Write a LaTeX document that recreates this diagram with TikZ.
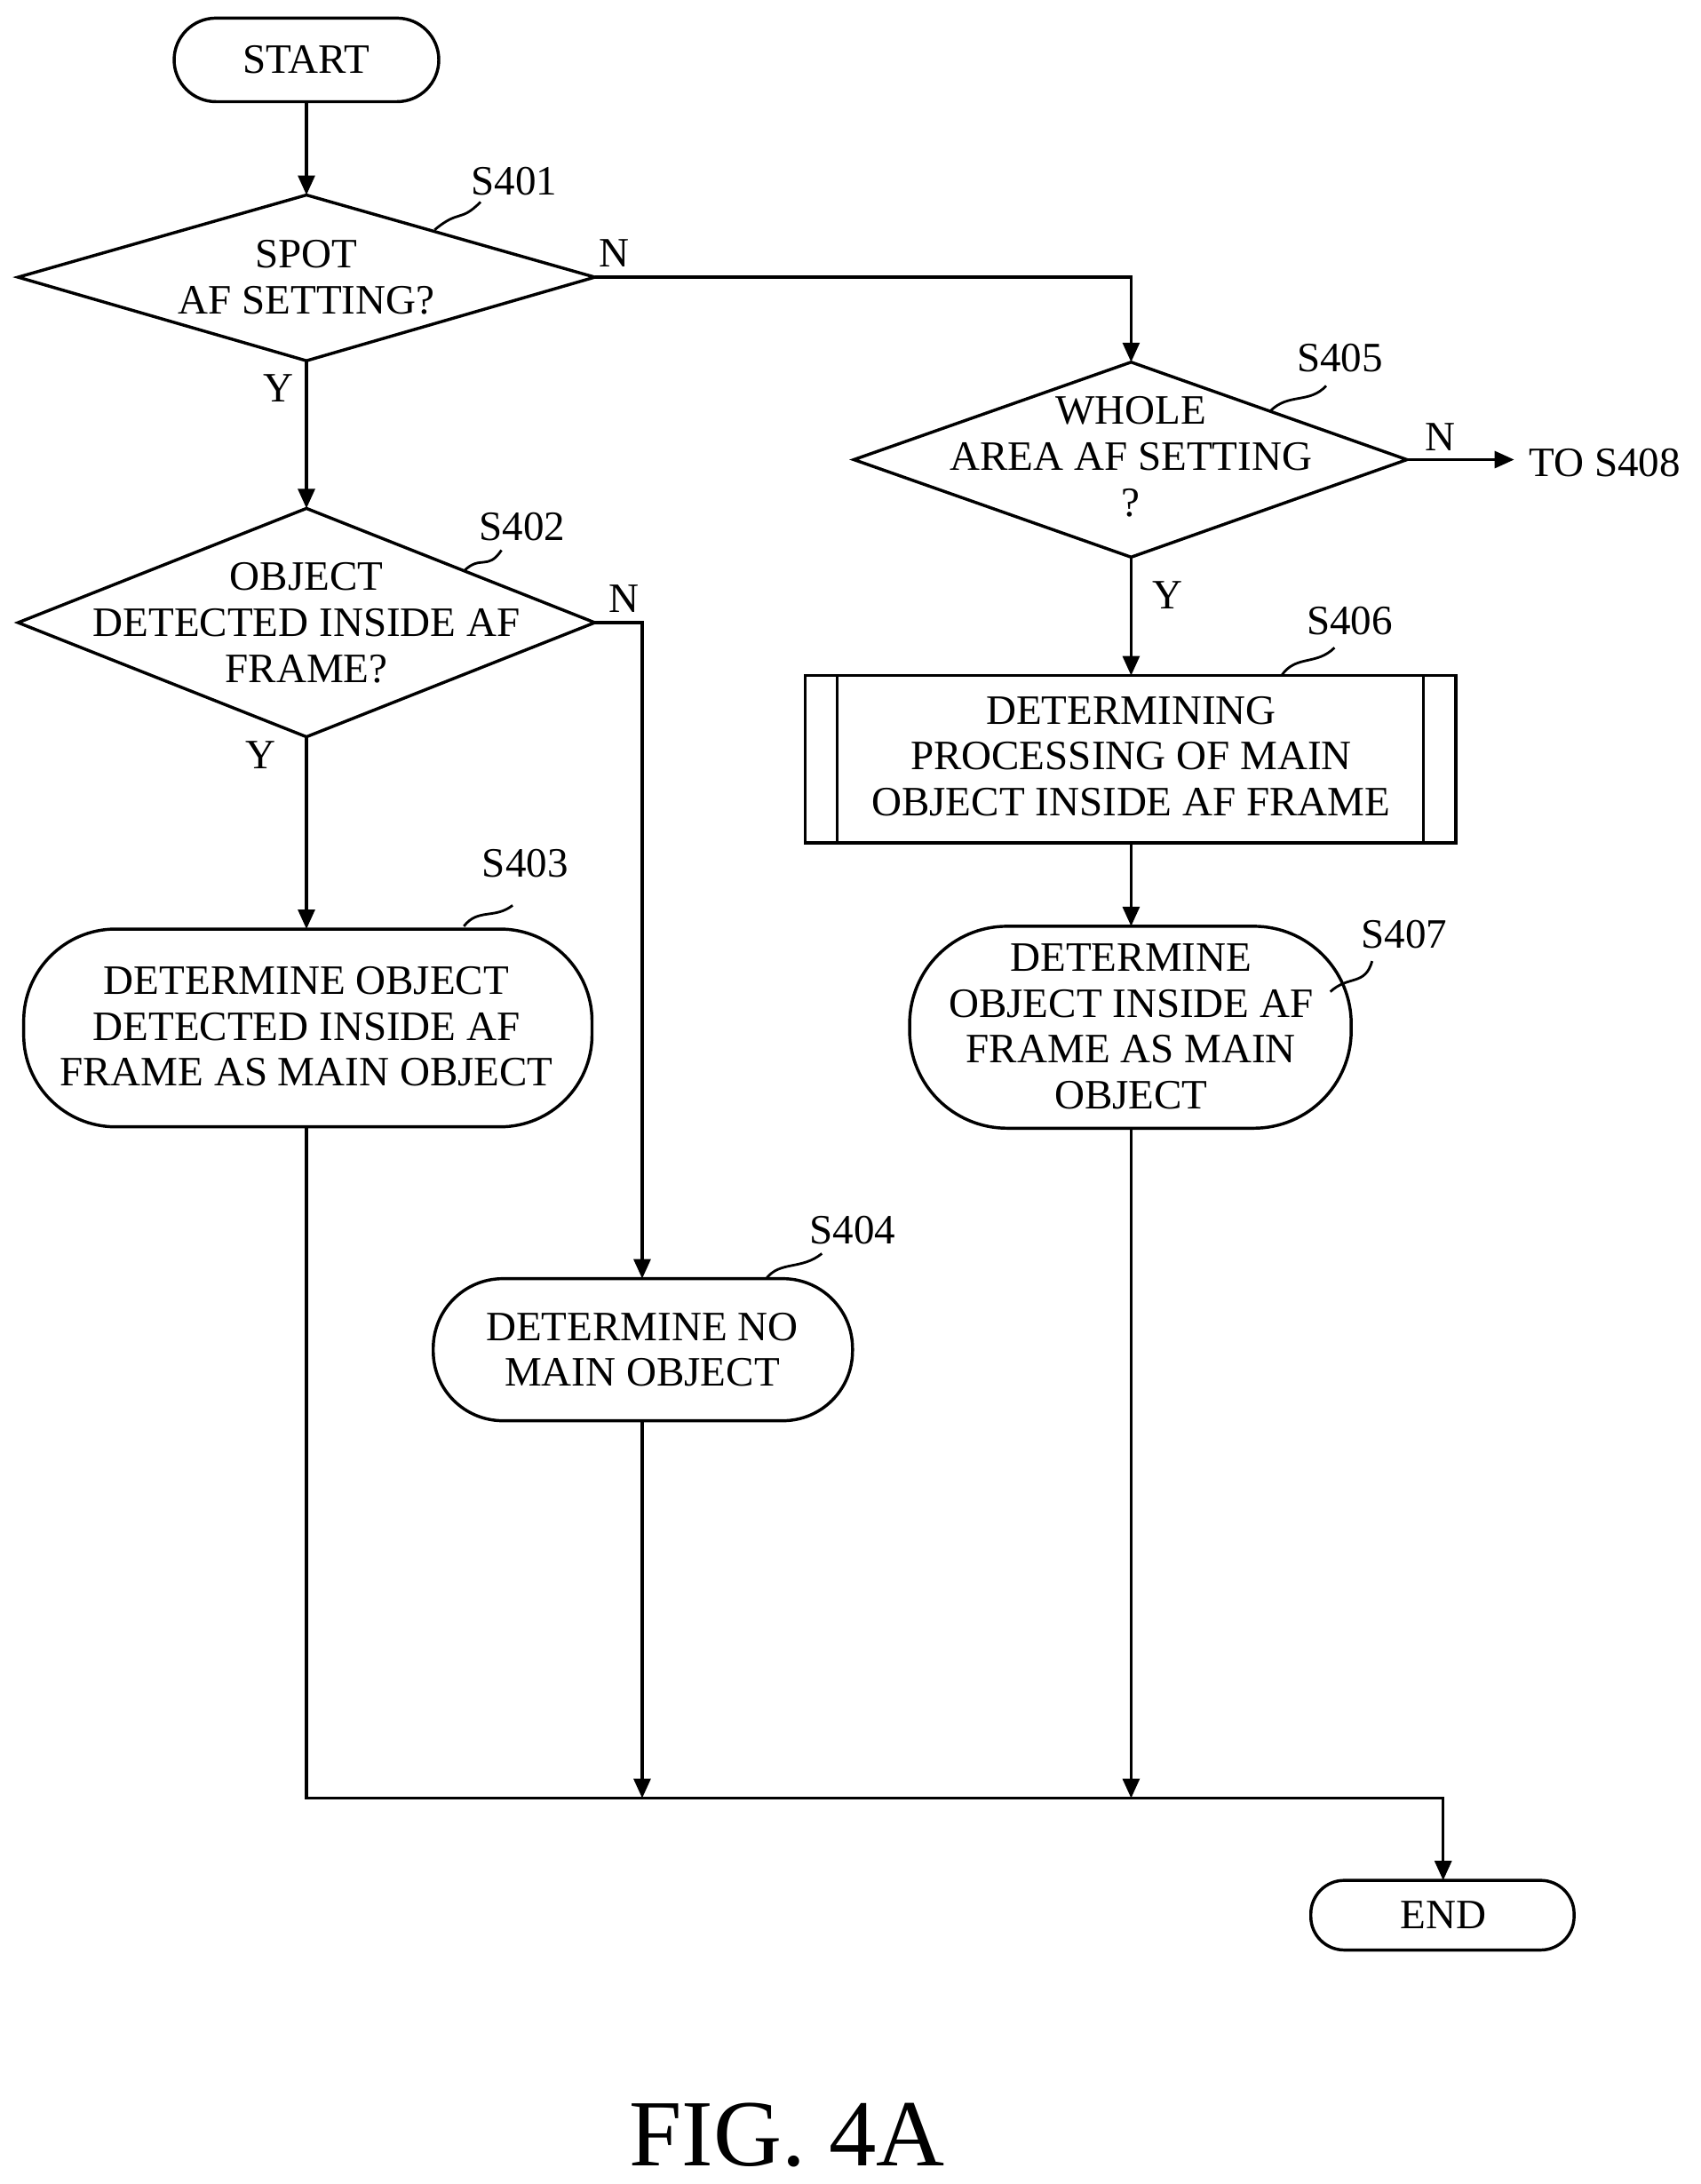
\documentclass[tikz,border=0pt]{standalone}
\usepackage{fontspec}
\setmainfont{Liberation Serif}
\usetikzlibrary{shapes.geometric,arrows.meta}
\begin{document}
\begin{tikzpicture}[x=0.5pt,y=-0.5pt,line width=1.1pt,
  every node/.style={font=\fontsize{15}{16.5}\selectfont,align=center,inner sep=0pt},
  arr/.style={-{Triangle[length=7pt,width=6pt]}},
  lbl/.style={font=\fontsize{15}{16}\selectfont},
  sq/.style={line width=0.9pt}]
\useasboundingbox (0,0) rectangle (1221,1568);
% shapes
\draw[rounded corners=15pt] (125,13) rectangle (315,73); \node (start) at (220,43) {START};
\coordinate (startb) at (220,73);
\draw (13,199)--(220,140)--(427,199)--(220,259)--cycle; \node (d1) at (220,199) {SPOT\\AF SETTING?};
\coordinate (d1t) at (220,140); \coordinate (d1b) at (220,259); \coordinate (d1r) at (427,199);
\draw (13,447)--(220,365)--(427,447)--(220,529)--cycle; \node (d2) at (220,447) {OBJECT\\DETECTED INSIDE AF\\FRAME?};
\coordinate (d2t) at (220,365); \coordinate (d2b) at (220,529); \coordinate (d2r) at (427,447);
\draw[rounded corners=33pt] (17,667) rectangle (425,809); \node (s403) at (220,737) {DETERMINE OBJECT\\DETECTED INSIDE AF\\FRAME AS MAIN OBJECT};
\coordinate (s403t) at (220,667); \coordinate (s403b) at (220,809);
\draw[rounded corners=25pt] (311,918) rectangle (612,1020); \node (s404) at (461,969) {DETERMINE NO\\MAIN OBJECT};
\coordinate (s404t) at (461,918); \coordinate (s404b) at (461,1020);
\draw (613,330)--(812,260)--(1010,330)--(812,400)--cycle; \node (d5) at (812,328) {WHOLE\\AREA AF SETTING\\?};
\coordinate (d5t) at (812,260); \coordinate (d5b) at (812,400); \coordinate (d5r) at (1010,330);
\draw (578,485) rectangle (1045,605); \draw (601,485)--(601,605) (1022,485)--(1022,605);
\node (s406) at (812,543) {DETERMINING\\PROCESSING OF MAIN\\OBJECT INSIDE AF FRAME};
\coordinate (s406t) at (812,485); \coordinate (s406b) at (812,605);
\draw[rounded corners=35pt] (653,665) rectangle (970,810); \node (s407) at (812,737) {DETERMINE\\OBJECT INSIDE AF\\FRAME AS MAIN\\OBJECT};
\coordinate (s407t) at (812,665); \coordinate (s407b) at (812,810);
\draw[rounded corners=12pt] (941,1350) rectangle (1130,1400); \node (end) at (1036,1375) {END};
\coordinate (endt) at (1036,1350);
% labels
\node[lbl] (l1) at (369,130) {S401}; \draw[sq] (312,165) .. controls (330,150) and (330,160) .. (345,145);
\node[lbl] (l2) at (375,378) {S402}; \draw[sq] (333,410) .. controls (345,398) and (350,410) .. (360,395);
\node[lbl] (l3) at (377,620) {S403}; \draw[sq] (333,665) .. controls (343,652) and (355,660) .. (368,650);
\node[lbl] (l4) at (612,883) {S404}; \draw[sq] (550,918) .. controls (560,905) and (575,912) .. (590,900);
\node[lbl] (l5) at (962,257) {S405}; \draw[sq] (912,295) .. controls (925,282) and (940,290) .. (952,277);
\node[lbl] (l6) at (969,446) {S406}; \draw[sq] (920,485) .. controls (930,470) and (945,478) .. (958,465);
\node[lbl] (l7) at (1008,671) {S407}; \draw[sq] (955,712) .. controls (968,700) and (980,708) .. (985,690);
\node (n1) at (441,182) {N}; \node (y1) at (200,279) {Y};
\node (n2) at (448,430) {N}; \node (y2) at (187,542) {Y};
\node (n5) at (1034,314) {N}; \node (y5) at (838,427) {Y};
\node (to) at (1152,332) {TO S408};
\coordinate (toa) at (1087,330);
% connectors
\draw[arr] (startb)--(d1t);
\draw[arr] (d1b)--(d2t);
\draw[arr] (d2b)--(s403t);
\draw[arr] (d1r)-|(d5t);
\draw[arr] (d2r)-|(s404t);
\draw[arr] (d5r)--(toa);
\draw[arr] (d5b)--(s406t);
\draw[arr] (s406b)--(s407t);
\coordinate (m1) at (220,1291); \coordinate (m2) at (461,1291); \coordinate (m3) at (812,1291);
\draw[arr] (s403b)--(m1)-|(endt);
\draw[arr] (s404b)--(m2);
\draw[arr] (s407b)--(m3);
\node[font=\fontsize{34}{36}\selectfont] (fig) at (565,1533) {FIG. 4A};
\end{tikzpicture}
\end{document}
